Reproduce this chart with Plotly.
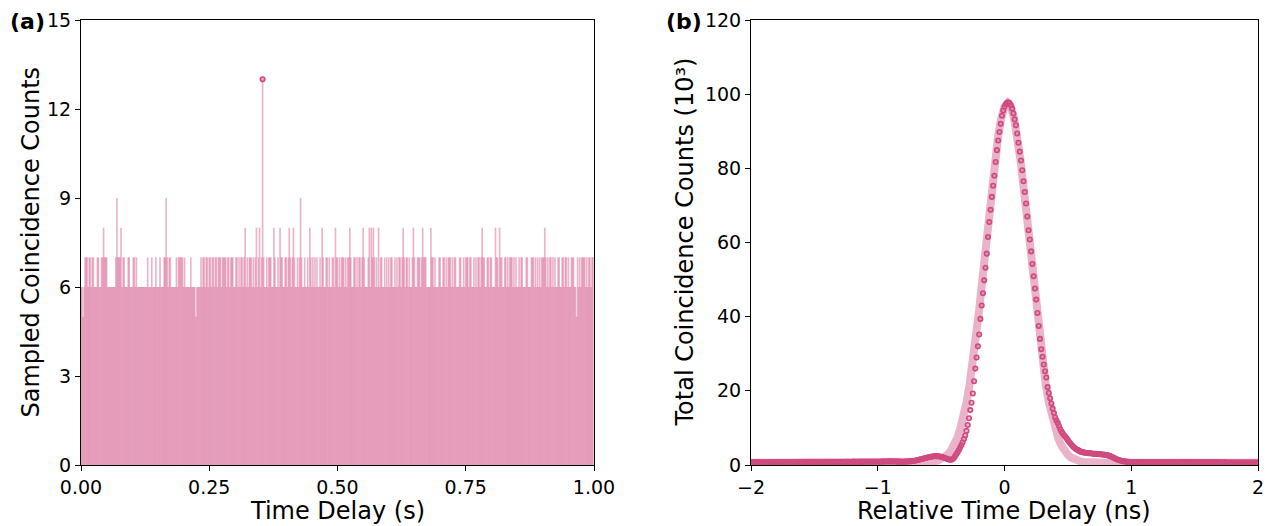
import numpy as np
import plotly.graph_objects as go

# ---------------- Panel (a): sampled coincidence counts (1 s, 500 bins) ----------------
# one hex digit per time bin ("d" = 13)
counts_rows = [
    "6656777677" "6776667766" "7787776666" "6666797778" "6776667766",
    "6776766666" "6666676667" "6667666766" "6779767766" "6667677777",
    "6766666766" "6656666767" "7677677677" "6776777677" "7767767776",
    "6776767767" "8676777676" "7867867d76" "6767776687" "6676877667",
    "7678767876" "6767976676" "6768767676" "7667687667" "7676677687",
    "7676777676" "7787667767" "6776787666" "7868787676" "8677667676",
    "7677667676" "7767876776" "7667876677" "7678777666" "6877676667",
    "7667767677" "7676776667" "7667677767" "7667676776" "7877667767",
    "7666877687" "7667767677" "7676766767" "7666776667" "7767676767",
    "7787676776" "7676677667" "7677676677" "7665767677" "7767677677",
]
sampled_counts = [int(c, 16) for row in counts_rows for c in row]
n_bins = len(sampled_counts)
time_delay_s = [i / n_bins for i in range(n_bins)]

xa_ticks = [0, 0.25, 0.5, 0.75, 1.0]
xa_ticktext = ["0.00", "0.25", "0.50", "0.75", "1.00"]
ya_ticks = [0, 3, 6, 9, 12, 15]

# ---------------- Panel (b): total coincidence histogram (10^3) ----------------
rel_delay_ns = [round(-2 + 0.01 * i, 2) for i in range(401)]
total_counts = [
    0.72, 0.71, 0.70, 0.72, 0.73, 0.71, 0.70, 0.71, 0.72, 0.73,
    0.72, 0.71, 0.72, 0.74, 0.73, 0.72, 0.71, 0.72, 0.73, 0.74,
    0.73, 0.72, 0.73, 0.74, 0.75, 0.74, 0.73, 0.74, 0.75, 0.76,
    0.75, 0.74, 0.75, 0.76, 0.75, 0.74, 0.75, 0.76, 0.77, 0.76,
    0.75, 0.76, 0.77, 0.78, 0.77, 0.76, 0.77, 0.78, 0.79, 0.78,
    0.77, 0.78, 0.79, 0.78, 0.77, 0.78, 0.79, 0.80, 0.79, 0.78,
    0.79, 0.80, 0.81, 0.80, 0.79, 0.80, 0.81, 0.82, 0.81, 0.80,
    0.81, 0.82, 0.81, 0.80, 0.81, 0.82, 0.83, 0.82, 0.81, 0.82,
    0.83, 0.84, 0.83, 0.82, 0.83, 0.84, 0.85, 0.84, 0.83, 0.84,
    0.85, 0.86, 0.85, 0.84, 0.85, 0.86, 0.87, 0.88, 0.87, 0.86,
    0.87, 0.88, 0.89, 0.90, 0.91, 0.92, 0.93, 0.94, 0.95, 0.96,
    0.97, 0.96, 0.95, 0.94, 0.93, 0.92, 0.91, 0.90, 0.89, 0.88,
    0.88, 0.89, 0.90, 0.92, 0.94, 0.97, 1.00, 1.04, 1.09, 1.15,
    1.21, 1.28, 1.36, 1.45, 1.54, 1.63, 1.72, 1.81, 1.90, 1.99,
    2.08, 2.16, 2.23, 2.29, 2.34, 2.37, 2.38, 2.37, 2.34, 2.29,
    2.22, 2.13, 2.02, 1.90, 1.76, 1.61, 1.48, 1.40, 1.42, 1.58,
    1.90, 2.35, 2.90, 3.45, 4.05, 4.70, 5.40, 6.15, 7.00, 7.95,
    9.2, 10.8, 12.6, 14.8, 16.8, 19.3, 22.6, 26.0, 29.0, 32.0,
    35.2, 39.4, 43.0, 46.3, 49.8, 53.2, 57.0, 61.5, 65.5, 68.8,
    72.3, 75.3, 78.0, 81.7, 84.9, 87.5, 89.8, 92.0, 94.2, 95.6,
    96.6, 97.3, 97.7, 97.8, 97.6, 97.0, 96.1, 94.8, 93.2, 91.6,
    89.4, 86.9, 84.5, 82.1, 79.5, 76.5, 73.6, 70.5, 67.0, 63.3,
    60.8, 57.6, 54.2, 50.9, 47.6, 44.6, 41.0, 37.5, 34.0, 31.2,
    29.2, 27.1, 25.3, 23.6, 21.0, 19.4, 18.0, 16.6, 15.2, 14.0,
    12.8, 12.0, 11.3, 10.5, 9.7, 9.0, 8.5, 8.0, 7.6, 7.2,
    6.7, 6.2, 5.8, 5.4, 5.0, 4.7, 4.4, 4.2, 4.0, 3.8,
    3.6, 3.5, 3.4, 3.35, 3.3, 3.25, 3.2, 3.2, 3.15, 3.1,
    3.05, 3.0, 3.0, 2.98, 2.95, 2.92, 2.9, 2.85, 2.8, 2.75,
    2.7, 2.65, 2.55, 2.45, 2.3, 2.15, 1.95, 1.8, 1.6, 1.5,
    1.35, 1.25, 1.15, 1.05, 1.0, 0.95, 0.9, 0.87, 0.84, 0.82,
    0.80, 0.79, 0.78, 0.78, 0.77, 0.77, 0.76, 0.76, 0.77, 0.77,
    0.76, 0.76, 0.75, 0.75, 0.76, 0.76, 0.75, 0.75, 0.74, 0.74,
    0.75, 0.75, 0.74, 0.74, 0.75, 0.75, 0.74, 0.74, 0.73, 0.73,
    0.74, 0.74, 0.73, 0.73, 0.74, 0.75, 0.75, 0.76, 0.76, 0.77,
    0.77, 0.78, 0.78, 0.79, 0.79, 0.78, 0.78, 0.77, 0.77, 0.76,
    0.76, 0.75, 0.75, 0.74, 0.74, 0.73, 0.73, 0.72, 0.72, 0.71,
    0.71, 0.72, 0.72, 0.71, 0.71, 0.70, 0.70, 0.71, 0.71, 0.70,
    0.70, 0.69, 0.69, 0.70, 0.70, 0.69, 0.69, 0.68, 0.68, 0.69,
    0.69, 0.68, 0.68, 0.67, 0.67, 0.68, 0.68, 0.67, 0.67, 0.66,
    0.66, 0.67, 0.67, 0.66, 0.66, 0.65, 0.65, 0.66, 0.66, 0.65,
    0.65,
]

# fitted profile (10^3 counts)
fit_x = [-2.0, -1.0, -0.7, -0.65, -0.6,
         -0.575, -0.55, -0.525, -0.5, -0.475, -0.45, -0.425, -0.4, -0.375, -0.35,
         -0.325, -0.3, -0.275, -0.25, -0.225, -0.2, -0.175, -0.15, -0.125, -0.1,
         -0.075, -0.05, -0.025, 0.0, 0.025, 0.05, 0.075, 0.1, 0.125, 0.15,
         0.175, 0.2, 0.225, 0.25, 0.275, 0.3, 0.325, 0.35, 0.375, 0.4,
         0.425, 0.45, 0.475, 0.5, 0.525, 0.55, 0.575, 0.6, 0.625,
         0.65, 0.7, 0.8, 1.0, 2.0]
fit_y = [0.6, 0.6, 0.61, 0.64, 0.73,
         0.82, 0.96, 1.18, 1.52, 2.02, 2.74, 3.76, 5.18, 7.1, 9.6,
         12.8, 16.9, 21.8, 27.6, 34.3, 41.8, 49.9, 58.4, 66.9, 75.1,
         82.5, 88.8, 93.6, 96.6, 97.6, 96.6, 93.6, 88.8, 82.5, 75.1,
         66.9, 58.4, 49.9, 41.8, 34.3, 27.6, 21.8, 16.9, 12.8, 9.6,
         7.1, 5.18, 3.76, 2.74, 2.02, 1.52, 1.18, 0.96, 0.82,
         0.73, 0.64, 0.61, 0.6, 0.6]

xb_ticks = [-2, -1, 0, 1, 2]
yb_ticks = [0, 20, 40, 60, 80, 100, 120]

# ---------------- styling ----------------
FONT = "DejaVu Sans"
LIGHT = "rgba(215,103,149,0.5)"
EDGE = "#cf4a7e"
FACE = "rgba(215,103,149,0.45)"

fig = go.Figure()

fig.add_trace(go.Bar(
    x=time_delay_s, y=sampled_counts, width=0.0032,
    marker=dict(color=LIGHT, line=dict(width=0)),
    xaxis="x", yaxis="y", showlegend=False, hoverinfo="skip"))

imax = int(np.argmax(sampled_counts))
fig.add_trace(go.Scatter(
    x=[time_delay_s[imax]], y=[sampled_counts[imax]], mode="markers",
    marker=dict(size=4.5, color=FACE, line=dict(color=EDGE, width=1.6)),
    xaxis="x", yaxis="y", showlegend=False))

fig.add_trace(go.Scatter(
    x=fit_x, y=fit_y, mode="lines",
    line=dict(color=LIGHT, width=8),
    xaxis="x2", yaxis="y2", showlegend=False))

fig.add_trace(go.Scatter(
    x=rel_delay_ns, y=total_counts, mode="markers",
    marker=dict(size=4.5, color=FACE, line=dict(color=EDGE, width=1.6)),
    xaxis="x2", yaxis="y2", showlegend=False))

# the page has an 8px body margin: shift the layout so it lands where the reference has it
OFF = 8
W, H = 1283 - OFF, 526 - OFF


def px_x(p):
    return (p - OFF) / W


def px_y(p):
    return 1 - (p - OFF) / H


ydom = [px_y(465), px_y(20)]
xa_dom = [px_x(81), px_x(594)]
xb_dom = [px_x(751), px_x(1258)]

axis_common = dict(
    showline=True, linecolor="black", linewidth=1, mirror=True,
    ticks="outside", ticklen=5, tickwidth=1, tickcolor="black",
    showgrid=False, zeroline=False, automargin=False,
    tickfont=dict(family=FONT, size=19, color="black"),
)

fig.update_layout(
    width=W, height=H,
    margin=dict(l=0, r=0, t=0, b=0, autoexpand=False),
    paper_bgcolor="white", plot_bgcolor="white",
    barmode="overlay",
    xaxis=dict(domain=xa_dom, range=[0, 1], tickvals=xa_ticks, ticktext=xa_ticktext,
               anchor="y", **axis_common),
    yaxis=dict(domain=ydom, range=[0, 15], tickvals=ya_ticks, anchor="x", **axis_common),
    xaxis2=dict(domain=xb_dom, range=[-2, 2], tickvals=xb_ticks, anchor="y2", **axis_common),
    yaxis2=dict(domain=ydom, range=[0, 120], tickvals=yb_ticks, anchor="x2", **axis_common),
)

title_font = dict(family=FONT, size=24, color="black")
annots = [
    dict(text="Time Delay (s)", x=(xa_dom[0] + xa_dom[1]) / 2, y=px_y(511)),
    dict(text="Relative Time Delay (ns)", x=(xb_dom[0] + xb_dom[1]) / 2, y=px_y(511)),
    dict(text="Sampled Coincidence Counts", x=px_x(31), y=px_y(242.5), textangle=-90),
    dict(text="Total Coincidence Counts (10³)", x=px_x(685), y=px_y(242.5), textangle=-90),
]
for a in annots:
    fig.add_annotation(xref="paper", yref="paper", showarrow=False,
                       xanchor="center", yanchor="middle", font=title_font, **a)

for txt, xl in [("<b>(a)</b>", 8), ("<b>(b)</b>", 664)]:
    fig.add_annotation(text=txt, xref="paper", yref="paper", x=px_x(xl), y=px_y(22),
                       showarrow=False, xanchor="left", yanchor="middle",
                       font=dict(family=FONT, size=22, color="black"))

fig.write_html("out.html")
